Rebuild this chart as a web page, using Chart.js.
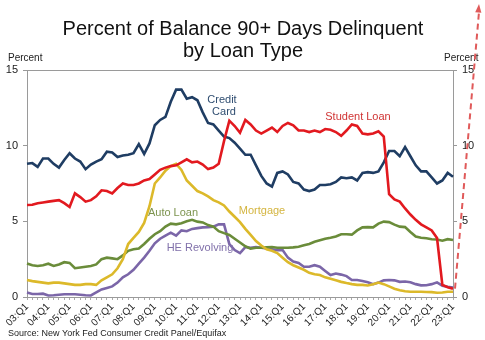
<!DOCTYPE html>
<html>
<head>
<meta charset="utf-8">
<script src="https://cdn.jsdelivr.net/npm/chart.js@4.4.0/dist/chart.umd.min.js"></script>
<style>
  body { margin: 0; background: #fff; }
</style>
</head>
<body>
<canvas id="myChart" width="485" height="340"></canvas>
<script>
// quarters 03:Q1 .. 23:Q1
const years = ['03','04','05','06','07','08','09','10','11','12','13','14','15','16','17','18','19','20','21','22','23'];
const quarters = years.flatMap(y => ['Q1','Q2','Q3','Q4'].map(q => y + ':' + q)).slice(0, 81);

const creditCard = [8.8, 8.85, 8.6, 9.15, 9.15, 8.8, 8.55, 9.05, 9.5, 9.15, 8.95, 8.45, 8.75, 8.95, 9.1, 9.6, 9.55, 9.25, 9.35, 9.4,
  9.5, 10.1, 9.45, 10.15, 11.35, 11.7, 11.9, 12.9, 13.7, 13.7, 13.1, 13.2, 13.0, 12.2, 11.5, 11.4, 11.0, 10.6, 10.5, 10.2,
  9.8, 9.4, 9.4, 8.7, 8.0, 7.5, 7.3, 8.2, 8.3, 8.1, 7.6, 7.5, 7.1, 7.0, 7.1, 7.4, 7.4, 7.45, 7.6, 7.9,
  7.85, 7.9, 7.7, 8.2, 8.25, 8.2, 8.3, 8.9, 9.65, 9.65, 9.3, 9.9, 9.3, 8.7, 8.3, 8.3, 7.9, 7.5, 7.7, 8.2, 7.95];
const studentLoan = [6.08, 6.1, 6.2, 6.25, 6.3, 6.35, 6.4, 6.2, 5.95, 6.85, 6.6, 6.3, 6.4, 6.65, 7.05, 7.0, 6.85, 7.2, 7.5, 7.4,
  7.4, 7.5, 7.7, 7.8, 8.1, 8.4, 8.55, 8.65, 8.7, 8.9, 9.1, 8.9, 8.95, 8.75, 8.45, 8.55, 8.8, 10.3, 11.65, 11.3,
  10.85, 11.7, 11.4, 11.0, 10.8, 11.0, 11.2, 10.9, 11.3, 11.5, 11.35, 11.0, 11.0, 10.9, 11.0, 10.9, 11.1, 11.05, 10.9, 10.65,
  11.0, 11.4, 11.3, 10.8, 10.75, 10.8, 10.95, 10.6, 6.8, 6.45, 6.3, 5.85, 5.45, 5.1, 4.8, 4.6, 4.4, 3.9, 0.8, 0.65, 0.55];
const autoLoan = [2.22, 2.1, 2.05, 2.1, 2.2, 2.05, 2.15, 2.3, 2.25, 1.9, 1.95, 2.0, 2.05, 2.15, 2.5, 2.6, 2.55, 2.5, 2.75, 3.05,
  3.15, 3.2, 3.5, 3.85, 4.15, 4.35, 4.65, 4.85, 4.8, 4.88, 5.0, 5.1, 4.98, 4.93, 4.75, 4.65, 4.35, 4.22, 4.1, 3.85,
  3.6, 3.35, 3.2, 3.25, 3.25, 3.28, 3.3, 3.25, 3.25, 3.25, 3.28, 3.32, 3.42, 3.5, 3.65, 3.75, 3.85, 3.92, 4.0, 4.15,
  4.15, 4.12, 4.4, 4.6, 4.62, 4.6, 4.85, 4.98, 4.95, 4.78, 4.65, 4.62, 4.3, 4.0, 3.92, 3.88, 3.82, 3.8, 3.72, 3.82, 3.77];
const mortgage = [1.12, 1.05, 1.0, 0.95, 0.9, 0.95, 0.95, 0.9, 0.85, 0.8, 0.8, 0.85, 0.85, 0.8, 1.1, 1.3, 1.5, 1.9, 2.5, 3.5,
  3.9, 4.3, 4.9, 6.0, 7.5, 7.9, 8.35, 8.65, 8.8, 8.4, 7.7, 7.35, 7.0, 6.85, 6.65, 6.4, 6.25, 6.05, 5.65, 5.3,
  4.95, 4.5, 4.1, 3.7, 3.4, 3.15, 3.05, 2.9, 2.6, 2.3, 2.1, 1.95, 1.8, 1.6, 1.5, 1.45, 1.3, 1.2, 1.1, 1.0,
  0.92, 0.85, 0.8, 0.8, 0.76, 0.85, 0.95, 0.85, 0.7, 0.55, 0.45, 0.38, 0.35, 0.35, 0.35, 0.33, 0.32, 0.28, 0.3, 0.35, 0.35];
const heRevolving = [0.29, 0.2, 0.2, 0.22, 0.1, 0.12, 0.15, 0.18, 0.18, 0.18, 0.15, 0.12, 0.1, 0.3, 0.5, 0.6, 0.7, 0.95, 1.3, 1.5,
  1.8, 2.2, 2.6, 3.05, 3.55, 3.85, 4.05, 4.25, 4.05, 4.4, 4.35, 4.5, 4.55, 4.6, 4.62, 4.65, 4.8, 4.8, 3.5, 3.1,
  2.9, 3.3, 3.25, 3.3, 3.25, 3.2, 3.15, 3.1, 3.1, 2.6, 2.35, 2.25, 2.0, 2.0, 2.1, 2.0, 1.72, 1.45, 1.55, 1.48,
  1.38, 1.12, 1.12, 1.06, 0.97, 0.85, 0.95, 1.1, 1.12, 1.1, 1.0, 1.02, 0.97, 0.85, 0.77, 0.78, 0.85, 0.97, 0.75, 0.68, 0.62];

const yTicks = [0, 5, 10, 15];

const FONT = 'Arial, "Liberation Sans", sans-serif';

// texts on the canvas: title, axis captions, series labels, source, arrow
const extras = {
    id: 'extras',
    beforeDatasetsDraw(chart) {
        const ctx = chart.ctx, a = chart.chartArea;
        ctx.save();
        ctx.strokeStyle = '#9a9a9a';
        ctx.lineWidth = 1;
        ctx.strokeRect(a.left + 0.5, a.top + 0.5, a.right - a.left, a.bottom - a.top);
        ctx.restore();
    },
    afterDraw(chart) {
        const ctx = chart.ctx;
        ctx.save();
        ctx.fillStyle = '#111';
        ctx.textAlign = 'center';
        ctx.textBaseline = 'alphabetic';
        ctx.font = '20px ' + FONT;
        ctx.fillText('Percent of Balance 90+ Days Delinquent', 243, 35);
        ctx.fillText('by Loan Type', 243, 57);

        ctx.font = '10px ' + FONT;
        ctx.fillStyle = '#222';
        ctx.textAlign = 'left';
        ctx.textBaseline = 'middle';
        ctx.fillText('Percent', 8, 58);
        ctx.fillText('Percent', 444, 58);
        ctx.font = '9px ' + FONT;
        ctx.fillText('Source: New York Fed Consumer Credit Panel/Equifax', 8, 334);

        ctx.font = '11px ' + FONT;
        ctx.textAlign = 'center';
        ctx.fillStyle = '#2f4d70';
        ctx.fillText('Credit', 222, 100);
        ctx.fillText('Card', 224, 112);
        ctx.fillStyle = '#d03434';
        ctx.fillText('Student Loan', 358, 117);
        ctx.fillStyle = '#7d944f';
        ctx.fillText('Auto Loan', 173, 213);
        ctx.fillStyle = '#d4b540';
        ctx.fillText('Mortgage', 262, 211);
        ctx.fillStyle = '#8070aa';
        ctx.fillText('HE Revolving', 200, 248);

        // dashed arrow from last student loan point to top right
        const xs = chart.scales.x, ys = chart.scales.y;
        const last = studentLoan.length - 1;
        const x0 = xs.getPixelForValue(last) + 2, y0 = ys.getPixelForValue(studentLoan[last]);
        const x1 = 479, y1 = 4;
        ctx.strokeStyle = '#e05a5a';
        ctx.lineWidth = 2;
        ctx.setLineDash([6, 4]);
        ctx.beginPath();
        ctx.moveTo(x0, y0);
        ctx.lineTo(x1, y1 + 8);
        ctx.stroke();
        ctx.setLineDash([]);
        const ang = Math.atan2(y1 - y0, x1 - x0);
        ctx.fillStyle = '#e05a5a';
        ctx.beginPath();
        ctx.moveTo(x1, y1);
        ctx.lineTo(x1 - 9 * Math.cos(ang - 0.35), y1 - 9 * Math.sin(ang - 0.35));
        ctx.lineTo(x1 - 9 * Math.cos(ang + 0.35), y1 - 9 * Math.sin(ang + 0.35));
        ctx.closePath();
        ctx.fill();
        ctx.restore();
    }
};

function line(label, data, color) {
    return { label: label, data: data, borderColor: color, backgroundColor: color,
             borderWidth: 2.6, pointRadius: 0, tension: 0, fill: false, yAxisID: 'y' };
}

const yAxis = (pos, w) => ({
    position: pos,
    min: 0,
    max: 15,
    afterBuildTicks: s => { s.ticks = yTicks.map(v => ({ value: v })); },
    ticks: { color: '#222', font: { size: 11, family: FONT }, padding: 5 },
    grid: { drawOnChartArea: false, tickLength: 4, color: '#999' },
    border: { color: '#9a9a9a' },
    afterFit: s => { s.width = w; }
});

new Chart(document.getElementById('myChart'), {
    type: 'line',
    data: {
        labels: quarters,
        datasets: [
            line('Student Loan', studentLoan, '#e2191f'),
            line('Credit Card', creditCard, '#1f3d63'),
            line('Mortgage', mortgage, '#dcb92a'),
            line('Auto Loan', autoLoan, '#6a8c3a'),
            line('HE Revolving', heRevolving, '#7b66a8')
        ]
    },
    options: {
        responsive: false,
        animation: false,
        layout: { padding: { top: 70, left: 0, right: 0, bottom: 0 } },
        plugins: {
            legend: { display: false },
            tooltip: { enabled: false },
            title: { display: false }
        },
        scales: {
            x: {
                offset: false,
                ticks: {
                    autoSkip: false,
                    maxRotation: 45,
                    minRotation: 45,
                    padding: 1,
                    color: '#222',
                    font: { size: 10, family: FONT },
                    callback: (v, i) => i % 4 === 0 ? quarters[i] : ''
                },
                grid: { drawOnChartArea: false, tickLength: 3, color: '#aaa' },
                border: { color: '#9a9a9a' },
                afterFit: s => { s.height = 43; }
            },
            y: yAxis('left', 27),
            y2: yAxis('right', 32)
        }
    },
    plugins: [extras]
});
</script>
</body>
</html>
